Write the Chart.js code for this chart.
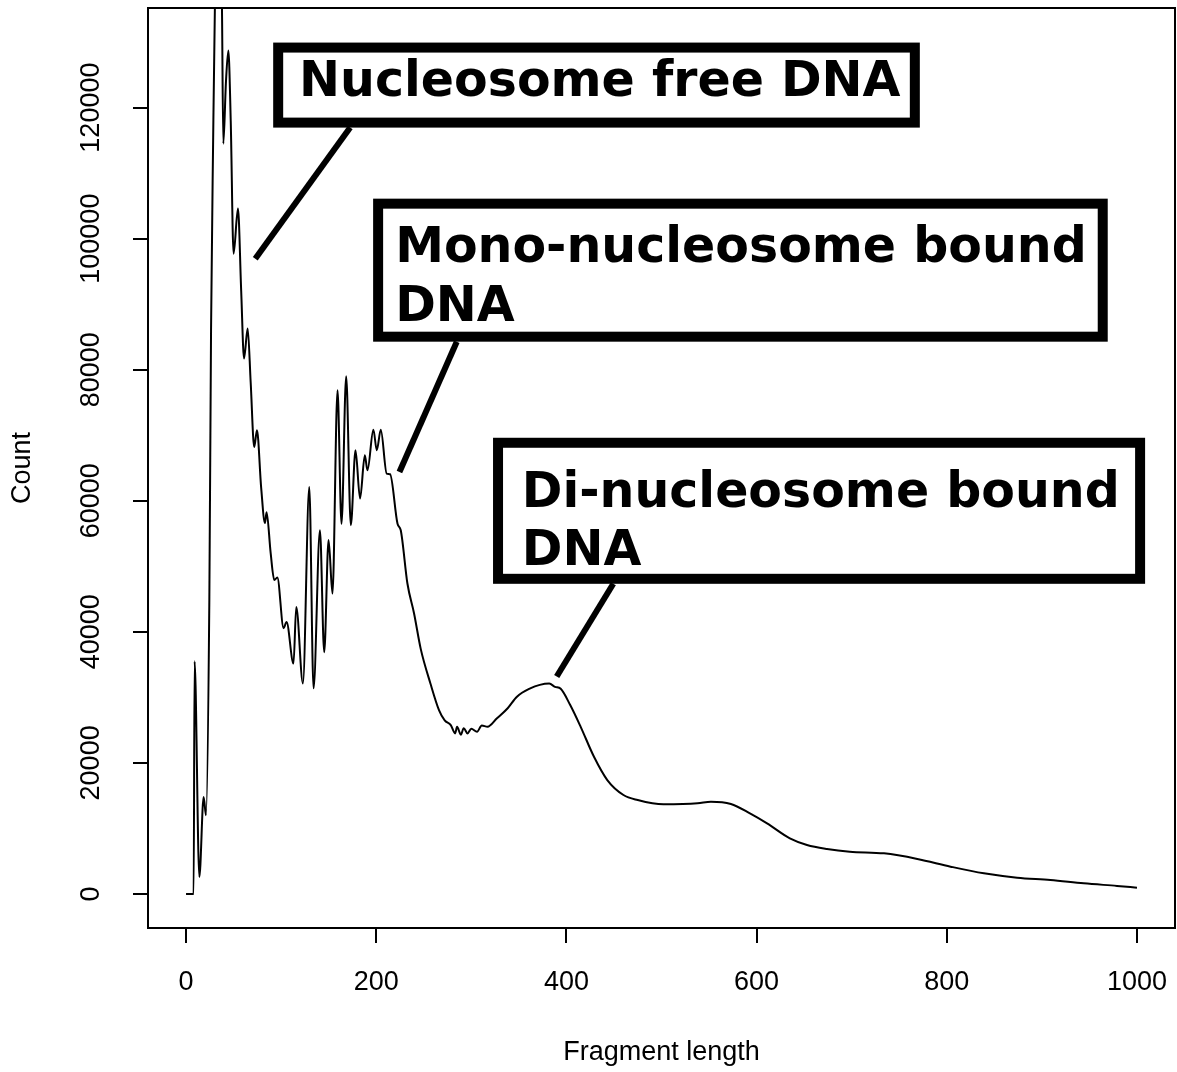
<!DOCTYPE html>
<html>
<head>
<meta charset="utf-8">
<script src="https://cdn.jsdelivr.net/npm/chart.js@4.4.1/dist/chart.umd.min.js"></script>
<style>
  body { margin: 0; background: #fff; }
  canvas { display: block; }
</style>
</head>
<body>
<canvas id="fraglen" width="1177" height="1072"></canvas>
<script>
/* fragment length distribution (ATAC-seq style) */

const fragLength = [
  0, 8, 9, 14, 18.5, 21, 24.5, 26.3, 28.5, 30.5, 33, 36, 37.8, 39.2, 42, 44.5, 47, 50,
  54.6, 58, 61, 64.8, 68, 71.7, 74.6, 79, 83, 84.7, 89, 92.8, 96, 102.6, 105.7, 113,
  115.9, 122.9, 129.6, 134.1, 140.8, 145.3, 149.9, 154, 159.3, 163.5, 168.4, 173.3,
  178.2, 183, 188, 190.8, 197, 200.6, 204.8, 211, 214.6, 222.4, 225.8, 232.8, 239.8,
  246.8, 257, 266, 272, 278.4, 283, 285, 289, 292, 296, 300, 306, 311, 317, 327, 338,
  348, 362, 372, 382, 388, 394, 404, 415, 429, 443, 460, 475, 502, 538, 552, 573, 593,
  611, 635, 653, 674, 698, 734, 769, 804, 839, 874, 909, 944, 979, 1000
];

const fragCount = [
  0, 0, 35500, 2600, 14800, 12000, 44800, 86000, 115000, 137000, 150000, 150000, 135000,
  114500, 124000, 128700, 118000, 97700,
  104600, 92000, 81700, 86300, 78000, 68200, 70750, 62000, 56600, 58250, 52000, 47900,
  48300, 40560, 41500, 35160,
  43800, 32130, 62100, 31370, 55500, 36900, 54000, 45830, 76850, 56500, 79000, 56270,
  67700, 60330, 66940, 64650, 70850, 67700, 70850, 64150, 64050, 56500, 55500, 47370, 42800,
  37400, 32120, 28060, 26500, 25770, 24500, 25500, 24300, 25300, 24500, 25200, 24750, 25700,
  25500, 26800, 28300,
  30100, 31370, 31900, 32100, 31600, 31300, 28820, 25500, 20930, 17380, 15100, 14330, 13670,
  13820, 14080, 13720, 12290,
  10770, 8480, 7470, 6860, 6440, 6190, 5340, 4160, 3140, 2480, 2130, 1620, 1220, 960
];

const xTicks = [0, 200, 400, 600, 800, 1000];
const yTicks = [0, 20000, 40000, 60000, 80000, 100000, 120000];

// callout boxes, in data units (x1, x2, y top, y bottom of the border centre line)
const boxLabels = [
  { lines: ['Nucleosome free DNA'], x1: 96.9, x2: 766.4, yTop: 129160, yBot: 117710,
    tx: 118.9, ty: [121700], from: [172.6, 116950], to: [72.8, 96950] },
  { lines: ['Mono-nucleosome bound', 'DNA'], x1: 202.0, x2: 964.0, yTop: 105340, yBot: 85040,
    tx: 219.9, ty: [96440, 87480], from: [284.7, 84270], to: [224.4, 64380] },
  { lines: ['Di-nucleosome bound', 'DNA'], x1: 328.1, x2: 1003.3, yTop: 68850, yBot: 48090,
    tx: 353.0, ty: [59040, 50230], from: [449.3, 47330], to: [389.8, 33180] }
];

const axisFont = '27px "Liberation Sans", Arial, sans-serif';

const rStylePlugin = {
  id: 'rstyle',
  afterDraw(chart) {
    const ctx = chart.ctx;
    const area = chart.chartArea;
    const xs = chart.scales.x;
    const ys = chart.scales.y;
    ctx.save();

    // plot box
    ctx.strokeStyle = '#000';
    ctx.lineWidth = 2;
    ctx.strokeRect(area.left, area.top, area.right - area.left, area.bottom - area.top);

    // tick labels
    ctx.fillStyle = '#000';
    ctx.font = axisFont;
    ctx.textAlign = 'center';
    ctx.textBaseline = 'middle';
    xTicks.forEach(v => ctx.fillText(String(v), xs.getPixelForValue(v), 983));
    yTicks.forEach(v => {
      ctx.save();
      ctx.translate(92, ys.getPixelForValue(v));
      ctx.rotate(-Math.PI / 2);
      ctx.fillText(String(v), 0, 0);
      ctx.restore();
    });

    // axis titles
    ctx.fillText('Fragment length', (area.left + area.right) / 2, 1053);
    ctx.save();
    ctx.translate(23, (area.top + area.bottom) / 2);
    ctx.rotate(-Math.PI / 2);
    ctx.fillText('Count', 0, 0);
    ctx.restore();

    // callouts
    boxLabels.forEach(b => {
      ctx.strokeStyle = '#000';
      ctx.lineWidth = 6;
      ctx.lineCap = 'butt';
      ctx.beginPath();
      ctx.moveTo(xs.getPixelForValue(b.from[0]), ys.getPixelForValue(b.from[1]));
      ctx.lineTo(xs.getPixelForValue(b.to[0]), ys.getPixelForValue(b.to[1]));
      ctx.stroke();

      const left = xs.getPixelForValue(b.x1);
      const right = xs.getPixelForValue(b.x2);
      const top = ys.getPixelForValue(b.yTop);
      const bot = ys.getPixelForValue(b.yBot);
      ctx.fillStyle = '#fff';
      ctx.fillRect(left, top, right - left, bot - top);
      ctx.lineWidth = 10;
      ctx.lineJoin = 'miter';
      ctx.strokeRect(left, top, right - left, bot - top);

      ctx.fillStyle = '#000';
      ctx.font = 'bold 49px "DejaVu Sans", Verdana, sans-serif';
      ctx.textAlign = 'left';
      ctx.textBaseline = 'alphabetic';
      b.lines.forEach((t, i) => ctx.fillText(t, xs.getPixelForValue(b.tx), ys.getPixelForValue(b.ty[i])));
    });

    ctx.restore();
  }
};

const datafrag = {
  datasets: [{
    label: 'Count',
    data: fragLength.map((x, i) => ({ x: x, y: fragCount[i] })),
    borderColor: '#000',
    borderWidth: 2,
    pointRadius: 0,
    fill: false,
    cubicInterpolationMode: 'monotone'
  }]
};

const configfrag = {
  type: 'line',
  data: datafrag,
  options: {
    responsive: false,
    animation: false,
    devicePixelRatio: 1,
    layout: { padding: { top: 8, right: 2, left: 0, bottom: 0 } },
    plugins: { legend: { display: false }, tooltip: { enabled: false } },
    scales: {
      x: {
        type: 'linear',
        min: -40,
        max: 1040,
        afterBuildTicks: s => { s.ticks = xTicks.map(v => ({ value: v })); },
        afterFit: s => { s.height = 144; },
        ticks: { display: false },
        border: { display: false },
        grid: { drawOnChartArea: false, drawTicks: true, tickLength: 15, color: '#000', lineWidth: 2 }
      },
      y: {
        min: -5200,
        max: 135200,
        afterBuildTicks: s => { s.ticks = yTicks.map(v => ({ value: v })); },
        afterFit: s => { s.width = 148; },
        ticks: { display: false },
        border: { display: false },
        grid: { drawOnChartArea: false, drawTicks: true, tickLength: 15, color: '#000', lineWidth: 2 }
      }
    }
  },
  plugins: [rStylePlugin]
};

const chartfrag = new Chart(document.getElementById('fraglen'), configfrag);
</script>
</body>
</html>
